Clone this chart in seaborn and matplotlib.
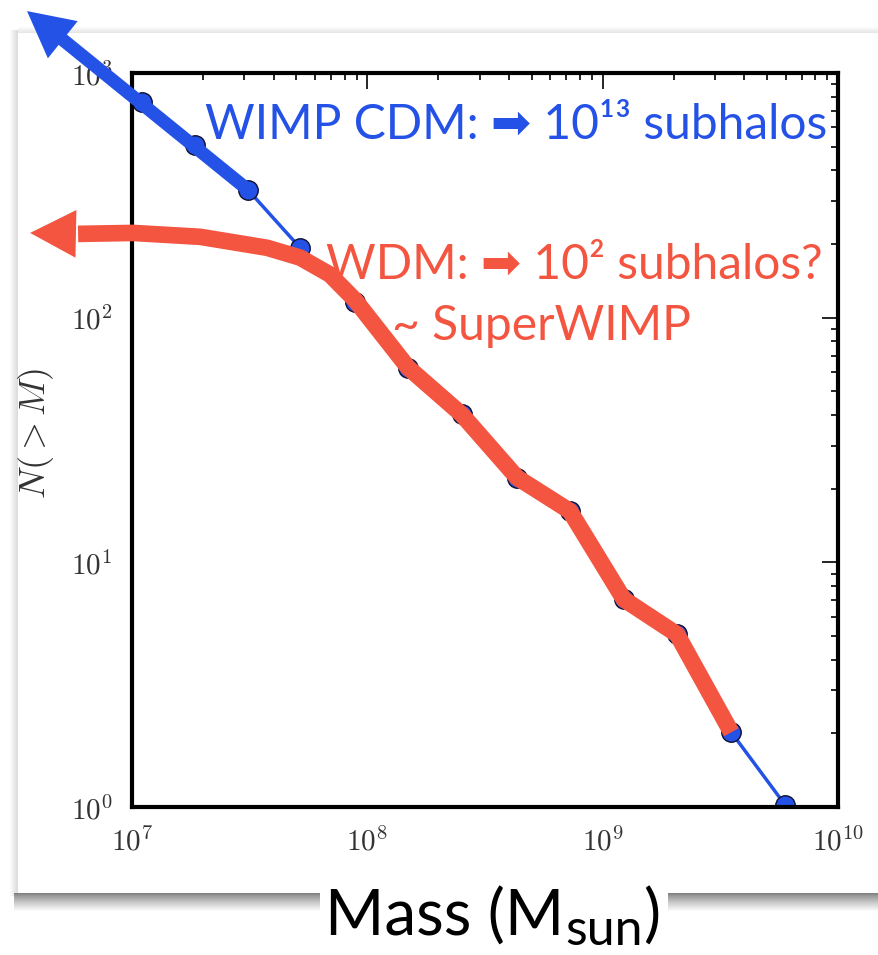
import numpy as np
import pandas as pd
import matplotlib
matplotlib.use("Agg")
import matplotlib.pyplot as plt
import seaborn as sns
from matplotlib.ticker import FuncFormatter, LogLocator, NullFormatter
from matplotlib.patches import Rectangle

# ---------------- data ----------------
mass_cdm = [1.10e7, 1.85e7, 3.11e7, 5.18e7, 8.87e7, 1.49e8, 2.52e8, 4.33e8,
            7.26e8, 1.23e9, 2.07e9, 3.52e9, 5.96e9]
n_cdm = [762, 508, 333, 193, 116, 62.5, 40.2, 22.2, 16.2, 7.06, 5.08, 2.02, 1.02]

mass_wdm = [5.90e6, 1.01e7, 1.95e7, 3.75e7, 5.18e7, 6.94e7, 8.87e7, 1.49e8,
            2.52e8, 4.33e8, 7.26e8, 1.23e9, 2.07e9, 3.52e9]
n_wdm = [220, 222, 214, 193, 176, 150, 118, 62.5, 40.2, 22.2, 16.2, 7.06, 5.08, 2.02]

# arrow annotations (data coordinates)
cdm_arrow_tail = (3.11e7, 333)
cdm_arrow_base = (5.04e6, 1376)
cdm_arrow_tip = (3.58e6, 1791)
wdm_arrow_base = (5.90e6, 220)
wdm_arrow_tip = (3.69e6, 222)

x_ticks = [1e7, 1e8, 1e9, 1e10]
y_ticks = [1e0, 1e1, 1e2, 1e3]

cdm_label = "WIMP CDM: \u27a1 10\u00b9\u00b3 subhalos"
wdm_label = "WDM: \u27a1 10\u00b2 subhalos?"
wdm_label2 = "~ SuperWIMP"
y_label = r"$N(>M)$"

BLUE = "#2552E6"
RED = "#F35541"

# ---------------- style ----------------
sns.set_theme(style="white")
plt.rcParams["mathtext.fontset"] = "cm"
plt.rcParams["font.family"] = ["Lato", "DejaVu Sans"]

W, H = 879, 955
fig = plt.figure(figsize=(W / 100, H / 100), dpi=100)
fig.patch.set_facecolor("white")

# background (slide panel with shadow), pixel coordinates
bg = fig.add_axes([0, 0, 1, 1], zorder=-10)
bg.set_xlim(0, W)
bg.set_ylim(H, 0)
bg.axis("off")
for i in range(8):
    g = 0.86 + 0.14 * ((7 - i) / 8)
    bg.add_patch(Rectangle((10 + i, 30), 1, 866, color=(g, g, g), lw=0))
for i in range(6):
    g = 0.90 + 0.10 * ((5 - i) / 6)
    bg.add_patch(Rectangle((18, 27 + i), W, 1, color=(g, g, g), lw=0))
for i in range(18):
    g = 0.50 + 0.50 * (i / 18) ** 0.8
    bg.add_patch(Rectangle((14, 893 + i), W, 1, color=(g, g, g), lw=0))
bg.add_patch(Rectangle((18, 33), W, 860, color="white", lw=0))
bg.add_patch(Rectangle((320, 880), 348, 40, color="white", lw=0))

# ---------------- main axes ----------------
L, R, T, B = 132, 838, 73, 807
ax = fig.add_axes([L / W, 1 - B / H, (R - L) / W, (B - T) / H])
ax.set_facecolor("white")
ax.set_xscale("log")
ax.set_yscale("log")

df_cdm = pd.DataFrame({"mass": mass_cdm, "N": n_cdm})
sns.lineplot(data=df_cdm, x="mass", y="N", ax=ax, color=BLUE, lw=2.5,
             marker="o", markersize=14, markerfacecolor=BLUE,
             markeredgecolor="#101030", markeredgewidth=1.0, zorder=2)

df_wdm = pd.DataFrame({"mass": mass_wdm, "N": n_wdm})
sns.lineplot(data=df_wdm, x="mass", y="N", ax=ax, color=RED, lw=12,
             zorder=3, clip_on=False, solid_capstyle="butt",
             solid_joinstyle="round")

# thick CDM arrow shaft
ax.plot([cdm_arrow_tail[0], cdm_arrow_base[0]],
        [cdm_arrow_tail[1], cdm_arrow_base[1]],
        color=BLUE, lw=9.5, clip_on=False, solid_capstyle="butt", zorder=3)

head = dict(arrowstyle="-|>,head_length=1.0,head_width=0.52",
            mutation_scale=33, lw=0, shrinkA=0, shrinkB=0)
ax.annotate("", xy=cdm_arrow_tip, xytext=cdm_arrow_base,
            arrowprops=dict(color=BLUE, **head), annotation_clip=False,
            zorder=4)
ax.annotate("", xy=wdm_arrow_tip, xytext=wdm_arrow_base,
            arrowprops=dict(color=RED, **head), annotation_clip=False,
            zorder=4)

ax.set_xlim(1e7, 1e10)
ax.set_ylim(1, 1e3)
ax.set_xticks(x_ticks)
ax.set_yticks(y_ticks)
ax.xaxis.set_minor_locator(LogLocator(base=10, subs=np.arange(2, 10), numticks=20))
ax.yaxis.set_minor_locator(LogLocator(base=10, subs=np.arange(2, 10), numticks=20))
fmt = FuncFormatter(lambda v, _: r"$10^{%d}$" % int(round(np.log10(v))))
ax.xaxis.set_major_formatter(fmt)
ax.yaxis.set_major_formatter(fmt)
ax.xaxis.set_minor_formatter(NullFormatter())
ax.yaxis.set_minor_formatter(NullFormatter())
ax.tick_params(which="both", direction="in", top=True, right=True,
               color="black", width=1.2)
ax.tick_params(which="major", length=11.5, labelsize=21, pad=14,
               labelcolor="#333333")
ax.tick_params(which="minor", length=5)
for s in ax.spines.values():
    s.set_linewidth(3)
    s.set_color("black")
ax.set_xlabel("")
ax.set_ylabel("")

# ---------------- texts (pixel positions) ----------------
tr = bg.transData
fig.text(205, 139, cdm_label, transform=tr, fontsize=34.6, color=BLUE,
         ha="left", va="baseline", family=["Lato", "DejaVu Sans"])
fig.text(326, 279, wdm_label, transform=tr, fontsize=34.6, color=RED,
         ha="left", va="baseline", family=["Lato", "DejaVu Sans"])
fig.text(392, 340, wdm_label2, transform=tr, fontsize=34.6, color=RED,
         ha="left", va="baseline", family=["Lato", "DejaVu Sans"])
fig.text(36, 433, y_label, transform=tr, fontsize=26, color="#333333",
         rotation=90, ha="center", va="center")

# x label built from pieces: "Mass (M" + subscript "sun" + ")"
t1 = fig.text(0, 936, "Mass (M", transform=tr, fontsize=46, color="black",
              ha="left", va="baseline", family=["Lato"])
t2 = fig.text(0, 945, "sun", transform=tr, fontsize=36, color="black",
              ha="left", va="baseline", family=["Lato"])
t3 = fig.text(0, 936, ")", transform=tr, fontsize=46, color="black",
              ha="left", va="baseline", family=["Lato"])
fig.canvas.draw()
r = fig.canvas.get_renderer()
w1 = t1.get_window_extent(r).width
w2 = t2.get_window_extent(r).width
w3 = t3.get_window_extent(r).width
total = w1 + w2 + w3
x0 = 492 - total / 2
t1.set_x(x0)
t2.set_x(x0 + w1 + 1)
t3.set_x(x0 + w1 + w2 + 2)

fig.savefig("out.png", dpi=100, facecolor="white")
